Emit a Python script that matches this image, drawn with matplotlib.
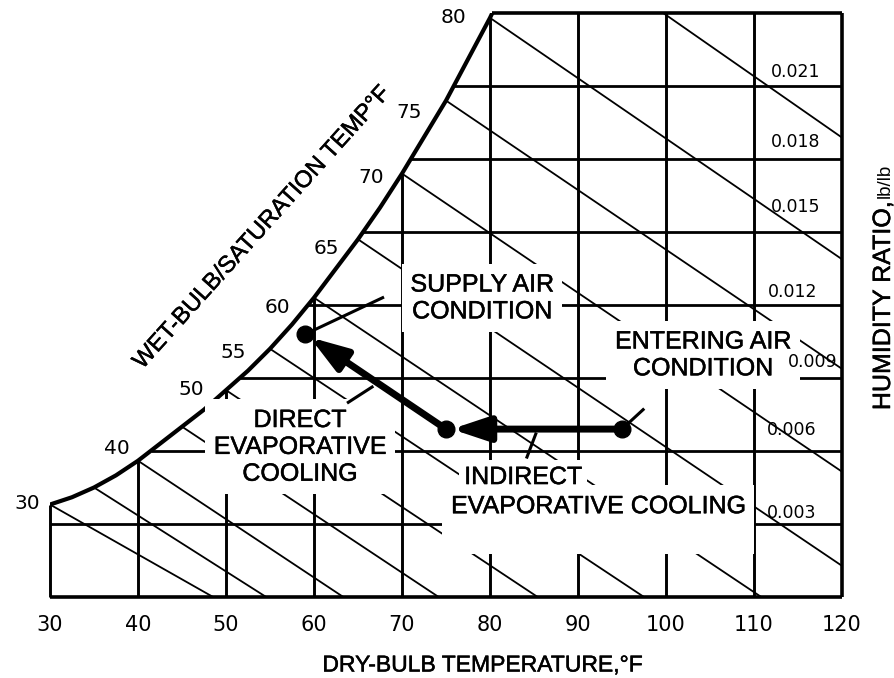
import numpy as np
import matplotlib.pyplot as plt
import matplotlib.patheffects as pe

plt.rcParams['font.family'] = ['Liberation Sans', 'DejaVu Sans']

# dry-bulb grid (F) and humidity ratio grid (lb/lb)
db_ticks = [30, 40, 50, 60, 70, 80, 90, 100, 110, 120]
w_grid = [0.0, 0.003, 0.006, 0.009, 0.012, 0.015, 0.018, 0.021, 0.024]
w_labels = ['0.021', '0.018', '0.015', '0.012', '0.009', '0.006', '0.003']

# saturation curve
sat_t = [30, 32.5, 35, 37.5, 40, 42.5, 45, 47.5, 50, 52.5, 55, 57.5,
         60, 62.5, 65, 67.5, 70, 72.5, 75, 77.5, 80, 82.5, 85]
sat_w = [0.0038, 0.0041, 0.0045, 0.0050, 0.0056, 0.0063, 0.0070, 0.0077,
         0.0085, 0.0093, 0.0102, 0.0112, 0.0123, 0.0135, 0.0147, 0.0160,
         0.0174, 0.0189, 0.0204, 0.0221, 0.0238, 0.0257, 0.0277]

# wet-bulb lines: start on the curve, slope in lb/lb per F
wb_t = [30, 35, 40, 45, 50, 55, 60, 65, 70, 75, 80, 85]
wb_slope = [0.000205, 0.00023, 0.00024, 0.00024, 0.00024, 0.00024,
            0.000242, 0.000244, 0.000245, 0.000245, 0.000248, 0.000252]
wb_labels = ['30', '40', '50', '55', '60', '65', '70', '75', '80']

# process: entering -> indirect -> direct (supply)
proc_t = [95, 75, 59]
proc_w = [0.0069, 0.0069, 0.0108]

# leader lines from the notes
leader_t = [[59, 67.8], [95, 97.4], [63.9, 66.6], [84.2, 85.2]]
leader_w = [[0.0108, 0.0123], [0.0069, 0.0077], [0.0080, 0.00863], [0.00575, 0.0067]]

# text placement (data coords)
wb_label_xy = [(27.4, 0.00386), (37.6, 0.00612), (46.1, 0.00851), (50.8, 0.01003),
               (55.8, 0.01188), (61.4, 0.01434), (66.5, 0.01726), (70.8, 0.01993),
               (75.8, 0.0238)]
w_label_xy = [(114.7, 0.02158), (114.7, 0.0187), (114.7, 0.01603), (114.4, 0.01254),
              (116.7, 0.00966), (114.3, 0.00686), (114.3, 0.00345)]

ink = [pe.withStroke(linewidth=0.35, foreground='k')]


def sat(t):
    return np.interp(t, sat_t, sat_w)


fig = plt.figure(figsize=(8.94, 6.78), dpi=100)
ax = fig.add_axes([50/894, 81/678, 792/894, 584/678])
ax.set_xlim(30, 120)
ax.set_ylim(0, 0.024)
for s in ax.spines.values():
    s.set_visible(False)
ax.set_yticks([])
ax.set_xticks(db_ticks)
ax.set_xticklabels([str(t) for t in db_ticks], fontfamily='DejaVu Sans')
ax.tick_params(axis='x', length=0, pad=13, labelsize=15)

# vertical dry-bulb lines
for t in db_ticks:
    top = min(sat(t), 0.024)
    lw = 2.6 if t == 120 else 2.1
    ax.plot([t, t], [0, top], color='k', lw=lw, solid_capstyle='butt', clip_on=False, zorder=2)

# horizontal humidity lines
for w in w_grid:
    t0 = np.interp(w, sat_w, sat_t) if w > sat_w[0] else 30
    lw = 2.6 if w in (0.0, 0.024) else 2.0
    ax.plot([t0, 120], [w, w], color='k', lw=lw, solid_capstyle='butt', clip_on=False, zorder=2)

# wet-bulb lines
for tw, s in zip(wb_t, wb_slope):
    w0 = sat(tw)
    ax.plot([tw, tw + w0/s], [w0, 0], color='k', lw=1.3, zorder=1)

# saturation curve
ax.plot(sat_t, sat_w, color='k', lw=3.0, solid_capstyle='round', zorder=3)

# wet-bulb labels
for lab, (x, y) in zip(wb_labels, wb_label_xy):
    ax.text(x, y, lab, fontsize=14.5, fontfamily='DejaVu Sans', ha='center', va='center')

# humidity labels
for lab, (x, y) in zip(w_labels, w_label_xy):
    ax.text(x, y, lab, fontsize=12.5, fontfamily='DejaVu Sans', ha='center', va='center',
            zorder=6)

box = dict(facecolor='white', edgecolor='none', boxstyle='square,pad=0.35')
tk = dict(fontsize=18, ha='center', va='center', linespacing=1.15, zorder=4, path_effects=ink)
ax.text(79.1, 0.01229, 'SUPPLY AIR\nCONDITION', bbox=box, **tk)
ax.text(104.2, 0.00995, 'ENTERING AIR\nCONDITION', bbox=box, **tk)
ax.text(58.4, 0.00617, 'DIRECT\nEVAPORATIVE\nCOOLING', bbox=box, **tk)
ax.text(92.3, 0.00318, 'EVAPORATIVE COOLING\n', bbox=box, **tk)
ax.text(83.75, 0.00493, 'INDIRECT', bbox=dict(facecolor='white', edgecolor='none',
                                             boxstyle='square,pad=0.2'), **tk)

# leaders
for lt, lw_ in zip(leader_t, leader_w):
    ax.plot(lt, lw_, color='k', lw=2.2, zorder=5)

# process arrows
arrow = dict(arrowstyle='-|>,head_length=0.9,head_width=0.3', lw=5, color='k',
             shrinkA=0, shrinkB=4, mutation_scale=25)
for i in range(len(proc_t) - 1):
    ax.annotate('', xy=(proc_t[i+1], proc_w[i+1]), xytext=(proc_t[i], proc_w[i]),
                arrowprops=arrow, zorder=6)
ax.plot(proc_t, proc_w, 'o', ms=12, color='k', zorder=7)

# axis titles
fig.text(262/894, 1 - 228/678, 'WET-BULB/SATURATION TEMP\u00b0F', fontsize=17,
         rotation=48, rotation_mode='anchor', ha='center', va='center', path_effects=ink)
fig.text(482/894, 1 - 665/678, 'DRY-BULB TEMPERATURE,\u00b0F', fontsize=16.5,
         ha='center', va='center', path_effects=ink)
fig.text(890/894, 1 - 202/678, 'HUMIDITY RATIO,', fontsize=18, rotation=90,
         rotation_mode='anchor', ha='right', va='baseline', path_effects=ink)
fig.text(890/894, 1 - 198/678, 'lb/lb', fontsize=13.5, rotation=90,
         rotation_mode='anchor', ha='left', va='baseline')

fig.savefig('out.png', dpi=100, facecolor='white')
